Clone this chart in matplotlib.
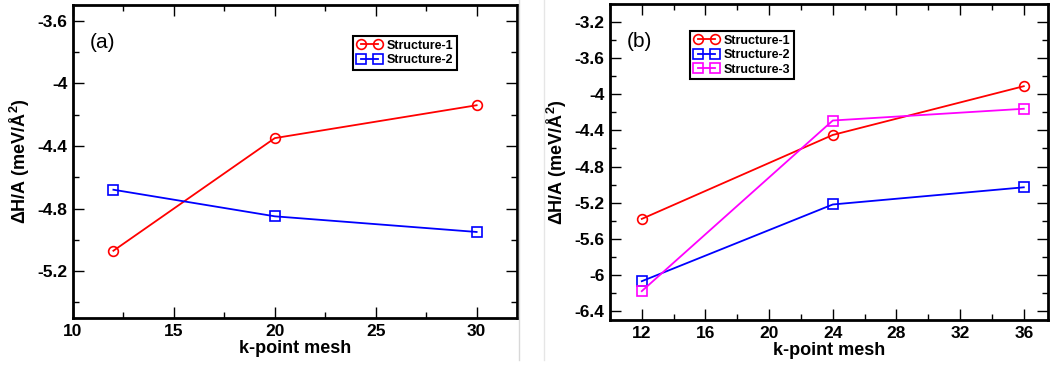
import matplotlib
matplotlib.use("Agg")
import matplotlib.pyplot as plt
from matplotlib.ticker import MultipleLocator
from matplotlib.lines import Line2D

plt.rcParams["font.family"] = ["Liberation Sans", "DejaVu Sans"]
plt.rcParams["mathtext.fontset"] = "custom"
plt.rcParams["mathtext.rm"] = "Liberation Sans:bold"
plt.rcParams["mathtext.bf"] = "Liberation Sans:bold"

# panel (a)
kmesh_a = [12, 20, 30]
s1_a = [-5.07, -4.35, -4.14]
s2_a = [-4.68, -4.85, -4.95]

# panel (b)
kmesh_b = [12, 24, 36]
s1_b = [-5.38, -4.45, -3.91]
s2_b = [-6.07, -5.22, -5.03]
s3_b = [-6.18, -4.29, -4.16]

ylabel = "ΔH/A (meV/Å$^2$)"
xlabel = "k-point mesh"

fig = plt.figure(figsize=(10.54, 3.67), dpi=100)
ax_a = fig.add_axes([0.0693, 0.1335, 0.4212, 0.8525])
ax_b = fig.add_axes([0.5787, 0.128, 0.4153, 0.861])


def style_axis(ax, xmaj, xmin, ymaj, ymin):
    ax.xaxis.set_major_locator(MultipleLocator(xmaj))
    ax.xaxis.set_minor_locator(MultipleLocator(xmin))
    ax.yaxis.set_major_locator(MultipleLocator(ymaj))
    ax.yaxis.set_minor_locator(MultipleLocator(ymin))
    ax.tick_params(which="both", direction="in", top=True, right=True,
                   labelsize=12.5, width=1.0)
    ax.tick_params(which="major", length=8, pad=4)
    ax.tick_params(which="minor", length=4.5)
    for lbl in ax.get_xticklabels() + ax.get_yticklabels():
        lbl.set_fontweight("bold")
    for sp in ax.spines.values():
        sp.set_linewidth(2)
    ax.set_xlabel(xlabel, fontsize=13, fontweight="bold", labelpad=1)
    ax.set_ylabel(ylabel, fontsize=13, fontweight="bold", labelpad=4)


mk = dict(markersize=7, markerfacecolor="none", markeredgewidth=1.2, linewidth=1.3)

ax_a.plot(kmesh_a, s1_a, color="#ff0000", marker="o", label="Structure-1", **mk)
ax_a.plot(kmesh_a, s2_a, color="#0000ff", marker="s", label="Structure-2", **mk)
ax_a.set_xlim(10, 32)
ax_a.set_ylim(-5.5, -3.5)
ax_a.yaxis.set_major_formatter(plt.FuncFormatter(lambda v, p: f"{v:g}"))
style_axis(ax_a, 5, 2.5, 0.4, 0.2)
ax_a.text(0.038, 0.879, "(a)", transform=ax_a.transAxes, fontsize=15, va="center")

ax_b.plot(kmesh_b, s1_b, color="#ff0000", marker="o", label="Structure-1", **mk)
ax_b.plot(kmesh_b, s2_b, color="#0000ff", marker="s", label="Structure-2", **mk)
ax_b.plot(kmesh_b, s3_b, color="#ff00ff", marker="s", label="Structure-3", **mk)
ax_b.set_xlim(10, 37.5)
ax_b.set_ylim(-6.5, -3.0)
ax_b.yaxis.set_major_formatter(plt.FuncFormatter(lambda v, p: f"{v:g}"))
style_axis(ax_b, 4, 2, 0.4, 0.2)
ax_b.text(0.039, 0.88, "(b)", transform=ax_b.transAxes, fontsize=15, va="center")

leg_kw = dict(numpoints=2, fancybox=False, edgecolor="black", framealpha=1,
              prop={"weight": "bold", "size": 9}, handlelength=2.0,
              handletextpad=0.4, borderpad=0.3, labelspacing=0.2,
              borderaxespad=0)
leg_a = ax_a.legend(loc="upper left", bbox_to_anchor=(0.631, 0.901), **leg_kw)
leg_b = ax_b.legend(loc="upper left", bbox_to_anchor=(0.183, 0.915), **leg_kw)
for leg in (leg_a, leg_b):
    leg.get_frame().set_linewidth(1.5)

# faint separators between the two pasted images
fig.add_artist(Line2D([0.492, 0.492], [0.02, 1.0], color="#d8d8d8", linewidth=1))
fig.add_artist(Line2D([0.516, 0.516], [0.02, 1.0], color="#e6e6e6", linewidth=1))

fig.savefig("out.png", dpi=100)
